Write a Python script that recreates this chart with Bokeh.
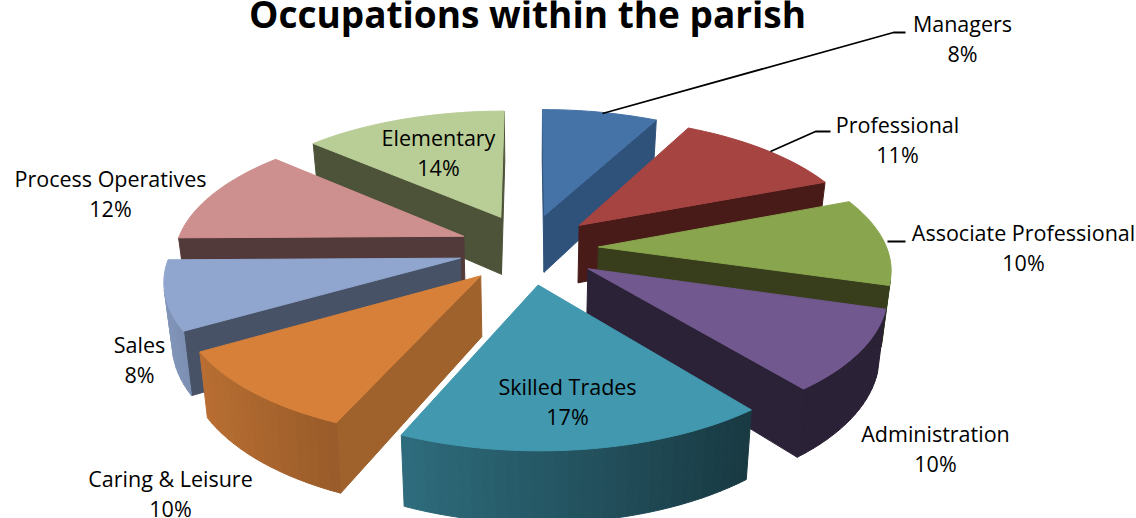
import numpy as np
from bokeh.plotting import figure
from bokeh.models import ColumnDataSource
from bokeh.core.properties import value
from bokeh.embed import file_html
from bokeh.resources import INLINE

categories = ["Managers", "Professional", "Associate Professional", "Administration",
              "Skilled Trades", "Caring & Leisure", "Sales", "Process Operatives", "Elementary"]
# percentages printed on the chart
shares = [8, 11, 10, 10, 17, 10, 8, 12, 14]
# slice sizes as they are actually drawn in the picture (measured from the slice corners)
drawn_shares = [7.6, 11.4, 10.6, 9.7, 17.2, 10.0, 8.3, 11.8, 13.4]
title_text = "Occupations within the parish"

top_colors = ["#4572A7", "#A64442", "#89A54E", "#71588F", "#4198AF",
              "#D6803A", "#90A6CE", "#CE908E", "#B9CD96"]
cut_colors = ["#2F527B", "#481B19", "#383E1B", "#2C2237", "#1B3A45",
              "#A0622C", "#485266", "#52393A", "#4C5339"]
draw_order = [8, 0, 7, 1, 2, 6, 5, 3, 4]
label_pos = [(962, 23), (897, 124), (1023, 232), (935, 433), (567, 386),
             (170, 478), (139, 344), (110, 178), (438, 137)]
line_gap = 30
leaders_x = [[602, 893, 905], [770, 815, 830], [887, 905]]
leaders_y = [[113, 32, 32], [151, 131, 131], [241, 241]]

# pie geometry (screen px)
cx, cy = 528, 248
R, T, D = 288.5, 130, 59
persp, explode, explode_y, taper = 0.145, 0.243, 1.12, 0.023


def project(X, Y, h):
    s = 1 / (1 + persp * Y)
    return cx + R * X * s * (1 - taper * h), cy - T * Y * s + D * s * h


def shade(c, f):
    rgb = [int(c[i:i + 2], 16) for i in (1, 3, 5)]
    return "#%02x%02x%02x" % tuple(int(round(v * f)) for v in rgb)


fracs = np.array(drawn_shares) / sum(drawn_shares)
ends = np.cumsum(fracs) * 2 * np.pi
starts = ends - fracs * 2 * np.pi

xs, ys, cols = [], [], []


def face(p, q, col):
    ax, ay = project(*p, 0); bx, by = project(*q, 0)
    cx2, cy2 = project(*q, 1); dx, dy = project(*p, 1)
    px, py = [ax, bx, cx2, dx], [ay, by, cy2, dy]
    area = sum(px[i] * py[(i + 1) % 4] - px[(i + 1) % 4] * py[i] for i in range(4))
    if area < 0:
        xs.append(px); ys.append(py); cols.append(col)


for i in draw_order:
    a0, a1 = starts[i], ends[i]
    m = (a0 + a1) / 2
    ox, oy = explode * np.sin(m), explode * explode_y * np.cos(m)
    th = np.linspace(a0, a1, max(8, int((a1 - a0) * 30)))
    rim = [(ox + np.sin(t), oy + np.cos(t)) for t in th]
    apex = (ox, oy)
    face(rim[-1], apex, cut_colors[i])
    face(apex, rim[0], cut_colors[i])
    for j in range(len(rim) - 1):
        mid = (th[j] + th[j + 1]) / 2
        f = max(0.38, 0.58 - 0.33 * np.sin(mid))
        face(rim[j], rim[j + 1], shade(top_colors[i], f))
    pts = [apex] + rim
    tx, ty = zip(*[project(*pt, 0) for pt in pts])
    xs.append(list(tx)); ys.append(list(ty)); cols.append(top_colors[i])

p = figure(width=1136, height=518, x_range=(0, 1136), y_range=(518, 0),
           output_backend="svg", toolbar_location=None, min_border=0,
           outline_line_color=None)
p.axis.visible = False
p.grid.visible = False

p.patches(xs="xs", ys="ys", fill_color="c", line_color="c", line_width=1.0,
          source=ColumnDataSource(dict(xs=xs, ys=ys, c=cols)))
p.multi_line(leaders_x, leaders_y, line_color="black", line_width=1.8)

tx, ty, tt = [], [], []
for name, share, (x, y) in zip(categories, shares, label_pos):
    tx += [x, x]
    ty += [y, y + line_gap]
    tt += [name, f"{share}%"]
p.text(tx, ty, text=tt, text_font=value("Open Sans"), text_font_size="21.5px",
       text_align="center", text_baseline="middle", text_color="black")
p.text([527], [13], text=[title_text], text_font=value("Open Sans"), text_font_size="37px",
       text_font_style="bold", text_align="center", text_baseline="middle", text_color="black")

open("out.html", "w").write(file_html(p, INLINE))
